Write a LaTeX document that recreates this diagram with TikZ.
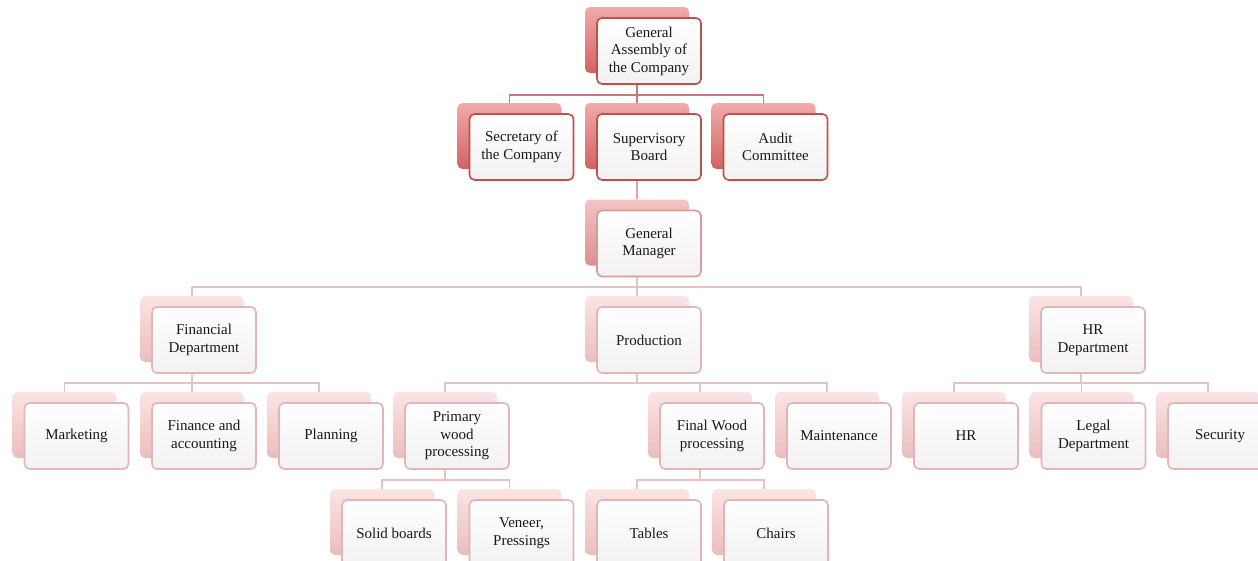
\documentclass[tikz,border=0pt]{standalone}
\usepackage{fontspec}
\setmainfont{Liberation Serif}
\usetikzlibrary{calc}
\definecolor{dkT}{HTML}{F2AAAA}
\definecolor{dkB}{HTML}{D26262}
\definecolor{dkL}{HTML}{C0504D}
\definecolor{dkC}{HTML}{C97878}
\definecolor{mdT}{HTML}{F3C4C4}
\definecolor{mdB}{HTML}{DC8F8F}
\definecolor{mdL}{HTML}{D89A9A}
\definecolor{mdC}{HTML}{DDA5A5}
\definecolor{ltT}{HTML}{FBE4E4}
\definecolor{ltB}{HTML}{EBBDBD}
\definecolor{ltL}{HTML}{E2B6B6}
\definecolor{ltC}{HTML}{E6C2C2}
\definecolor{frB}{HTML}{F3F1F1}
\tikzset{
  x=1pt, y=-1pt,
  box/.style={rectangle, rounded corners=5pt, minimum width=104pt, minimum height=66pt,
    align=center, inner sep=1pt, font=\fontsize{15}{17.5}\selectfont, text=black!90},
  backD/.style={box, top color=dkT, bottom color=dkB, draw=none},
  frontD/.style={box, top color=white, bottom color=frB, draw=dkL, line width=1.6pt},
  backM/.style={box, top color=mdT, bottom color=mdB, draw=none},
  frontM/.style={box, top color=white, bottom color=frB, draw=mdL, line width=1.6pt},
  backL/.style={box, top color=ltT, bottom color=ltB, draw=none},
  frontL/.style={box, top color=white, bottom color=frB, draw=ltL, line width=1.6pt},
  connD/.style={draw=dkC, line width=1.8pt},
  connM/.style={draw=mdC, line width=1.8pt},
  connL/.style={draw=ltC, line width=1.8pt},
}
\newcommand\onode[5]{%
  \node[back#4] (#1b) at (#2,#3) {};
  \node[front#4] (#1) at (#2+12,#3+11) {#5};}
\begin{document}
\begin{tikzpicture}
\path[use as bounding box, clip] (0,0) rectangle (1258,560);
% level 1
\onode{ga}{637}{40}{D}{General\\Assembly of\\the Company}
% level 2
\onode{sec}{509.5}{136}{D}{Secretary of\\the Company}
\onode{sup}{637}{136}{D}{Supervisory\\Board}
\onode{aud}{763.5}{136}{D}{Audit\\Committee}
% general manager
\onode{gm}{637}{232.5}{M}{General\\Manager}
% level 3
\onode{fin}{192}{329}{L}{Financial\\Department}
\onode{prod}{637}{329}{L}{Production}
\onode{hrd}{1081}{329}{L}{HR\\Department}
% level 4
\onode{mkt}{64.5}{425}{L}{Marketing}
\onode{faa}{192}{425}{L}{Finance and\\accounting}
\onode{plan}{319}{425}{L}{Planning}
\onode{pwp}{445}{425}{L}{Primary\\wood\\processing}
\onode{fwp}{700}{425}{L}{Final Wood\\processing}
\onode{mnt}{827}{425}{L}{Maintenance}
\onode{hr}{954}{425}{L}{HR}
\onode{legal}{1081.5}{425}{L}{Legal\\Department}
\onode{secu}{1208}{425}{L}{Security}
% level 5
\onode{solid}{382}{522}{L}{Solid boards}
\onode{ven}{509.5}{522}{L}{Veneer,\\Pressings}
\onode{tab}{637}{522}{L}{Tables}
\onode{chr}{764}{522}{L}{Chairs}
% bars
\coordinate (b1) at (0,95);
\coordinate (b3) at (0,287);
\coordinate (b4) at (0,383);
\coordinate (b5) at (0,480);
% connectors
\draw[connD] (gab |- ga.south) -- (gab |- b1);
\draw[connD] (secb.north) -- (secb |- b1) -- (audb |- b1) -- (audb.north);
\draw[connD] (supb |- b1) -- (supb.north);
\draw[connM] (supb |- sup.south) -- (gmb.north);
\draw[connL] (gmb |- gm.south) -- (gmb |- b3);
\draw[connL] (finb.north) -- (finb |- b3) -- (hrdb |- b3) -- (hrdb.north);
\draw[connL] (prodb |- b3) -- (prodb.north);
\draw[connL] (finb |- fin.south) -- (finb |- b4);
\draw[connL] (mktb.north) -- (mktb |- b4) -- (planb |- b4) -- (planb.north);
\draw[connL] (faab |- b4) -- (faab.north);
\draw[connL] (prodb |- prod.south) -- (prodb |- b4);
\draw[connL] (pwpb.north) -- (pwpb |- b4) -- (mntb |- b4) -- (mntb.north);
\draw[connL] (fwpb |- b4) -- (fwpb.north);
\draw[connL] (hrdb |- hrd.south) -- (hrdb |- b4);
\draw[connL] (hrb.north) -- (hrb |- b4) -- (secub |- b4) -- (secub.north);
\draw[connL] (legalb |- b4) -- (legalb.north);
\draw[connL] (pwpb |- pwp.south) -- (pwpb |- b5);
\draw[connL] (solidb.north) -- (solidb |- b5) -- (venb |- b5) -- (venb.north);
\draw[connL] (fwpb |- fwp.south) -- (fwpb |- b5);
\draw[connL] (tabb.north) -- (tabb |- b5) -- (chrb |- b5) -- (chrb.north);
\end{tikzpicture}
\end{document}
